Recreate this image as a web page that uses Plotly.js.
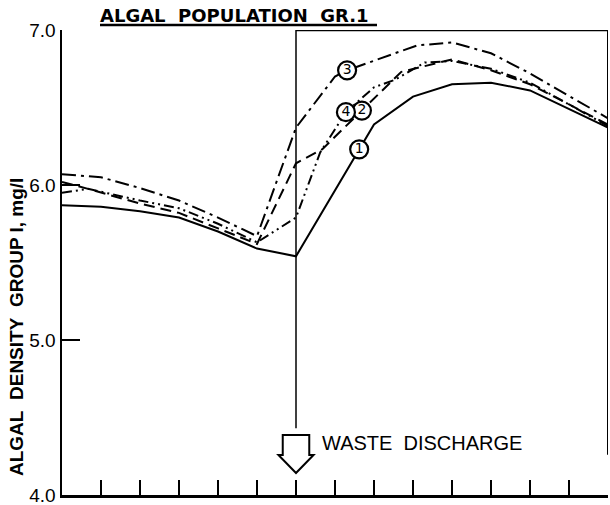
<!DOCTYPE html>
<html>
<head>
<meta charset="utf-8">
<script src="https://cdn.plot.ly/plotly-3.0.1.min.js"></script>
<style>html,body{margin:0;padding:0;background:#fff;}#chart{width:610px;height:505px;}</style>
</head>
<body>
<div id="chart"></div>
<script>
// ---- data ----
const titleText = "ALGAL\u00A0 POPULATION\u00A0 GR.1";
const yTitle = "ALGAL\u00A0 DENSITY\u00A0 GROUP I, mg/l";
const dischargeLabel = "WASTE\u00A0 DISCHARGE";
const dischargeX = 6;

const yTickVals = [4, 5, 6, 7];
const yTickText = ["4.0", "5.0", "6.0", "7.0"];
const xTickVals = [1, 2, 3, 4, 5, 6, 7, 8, 9, 10, 11, 12, 13, 14];

// curve 1 (solid)
const x1 = [0, 1, 2, 3, 4, 5, 6, 8, 9, 10, 11, 12, 14];
const y1 = [5.87, 5.86, 5.83, 5.79, 5.70, 5.59, 5.54, 6.39, 6.57, 6.65, 6.66, 6.61, 6.37];
// curve 2 (dashed)
const x2 = [0, 0.67, 2, 3, 4, 5, 6, 6.67, 8.7, 10, 11, 12, 14];
const y2 = [6.02, 5.975, 5.88, 5.82, 5.72, 5.62, 6.14, 6.23, 6.73, 6.81, 6.74, 6.65, 6.39];
// curve 3 (dash-dot)
const x3 = [0, 1, 2, 3, 4, 5, 6, 7, 7.31, 9.1, 10, 11, 12, 14];
const y3 = [6.07, 6.05, 5.98, 5.90, 5.79, 5.67, 6.37, 6.70, 6.74, 6.90, 6.92, 6.85, 6.72, 6.43];
// curve 4 (dash-dot-dot)
const x4 = [0, 0.67, 2, 3, 4, 5, 6, 6.62, 7.28, 8, 8.55, 9.3, 10, 11, 12, 14];
const y4 = [5.95, 5.975, 5.90, 5.85, 5.75, 5.63, 5.79, 6.21, 6.47, 6.63, 6.68, 6.79, 6.80, 6.75, 6.66, 6.38];

// circled curve labels
const circleX = [7.62, 7.69, 7.31, 7.28];
const circleY = [6.23, 6.48, 6.74, 6.47];
const circleText = ["1", "2", "3", "4"];

// ---- chart ----
const blk = "#000";
function curve(x, y, dash) {
  return {x: x, y: y, type: "scatter", mode: "lines", hoverinfo: "skip",
          line: {color: blk, width: 2, dash: dash}, showlegend: false};
}
const traces = [
  curve(x1, y1, "solid"),
  curve(x2, y2, "11px,6px"),
  curve(x3, y3, "14px,5px,3px,5px"),
  curve(x4, y4, "10px,4px,2px,4px,2px,4px"),
  {x: circleX, y: circleY, type: "scatter", mode: "markers+text", text: circleText,
   textposition: "middle center", cliponaxis: false, showlegend: false,
   textfont: {family: "DejaVu Sans", size: 14, color: blk},
   marker: {symbol: "circle", size: 18, color: "#fff", line: {color: blk, width: 2.2}}}
];

// arrow geometry (relative to discharge position)
const aTop = 4.387, aNeck = 4.258, aTip = 4.142, aHalf = 0.34, hHalf = 0.45;
const arrowPath = "M " + (dischargeX - aHalf) + "," + aTop +
  " L " + (dischargeX + aHalf) + "," + aTop +
  " L " + (dischargeX + aHalf) + "," + aNeck +
  " L " + (dischargeX + hHalf) + "," + aNeck +
  " L " + dischargeX + "," + aTip +
  " L " + (dischargeX - hHalf) + "," + aNeck +
  " L " + (dischargeX - aHalf) + "," + aNeck + " Z";

const layout = {
  width: 610, height: 505,
  margin: {l: 62, r: 2, t: 30, b: 10},
  paper_bgcolor: "#fff", plot_bgcolor: "#fff",
  title: {text: "<b>" + titleText + "</b>", xref: "container", yref: "container",
          x: 100 / 610, xanchor: "left", y: 1 - 16 / 505, yanchor: "middle",
          font: {family: "DejaVu Sans", size: 18, color: blk}},
  xaxis: {range: [0, 14], showline: true, linecolor: blk, linewidth: 2.5,
          ticks: "inside", tickvals: xTickVals, ticklen: 15, tickwidth: 2, tickcolor: blk,
          showticklabels: false, showgrid: false, zeroline: false, fixedrange: true},
  yaxis: {range: [4, 7], showline: true, linecolor: blk, linewidth: 2.5,
          ticks: "inside", tickvals: yTickVals, ticktext: yTickText, ticklen: 18,
          tickwidth: 2, tickcolor: blk, showgrid: false, zeroline: false, fixedrange: true,
          ticklabeloverflow: "allow",
          tickfont: {family: "Liberation Sans", size: 19, color: blk}},
  shapes: [
    {type: "line", xref: "x", yref: "y", x0: dischargeX, x1: dischargeX, y0: 7, y1: 4.43,
     line: {color: blk, width: 1.5}},
    {type: "path", xref: "x", yref: "y", path: arrowPath, line: {color: blk, width: 2},
     fillcolor: "#fff"},
    {type: "line", xref: "x", yref: "y", x0: dischargeX, x1: 14, y0: 7, y1: 7,
     line: {color: blk, width: 2.5}},
    {type: "line", xref: "x", yref: "y", x0: 14, x1: 14, y0: 7, y1: 4.26,
     line: {color: blk, width: 2}},
    {type: "line", xref: "paper", yref: "paper", x0: 38 / 546, x1: 315 / 546,
     y0: 1 + 5 / 465, y1: 1 + 5 / 465, line: {color: blk, width: 2.5}}
  ],
  annotations: [
    {text: dischargeLabel, xref: "x", yref: "y", x: 6.62, y: 4.335, xanchor: "left",
     yanchor: "middle", showarrow: false,
     font: {family: "Liberation Sans", size: 20, color: blk}},
    {text: "<b>" + yTitle + "</b>", xref: "paper", yref: "paper", x: -46 / 546,
     y: 168 / 465, xanchor: "center", yanchor: "middle", textangle: -90, showarrow: false,
     font: {family: "Liberation Sans", size: 19, color: blk}}
  ]
};

Plotly.newPlot("chart", traces, layout, {staticPlot: true, displayModeBar: false});
</script>
</body>
</html>
